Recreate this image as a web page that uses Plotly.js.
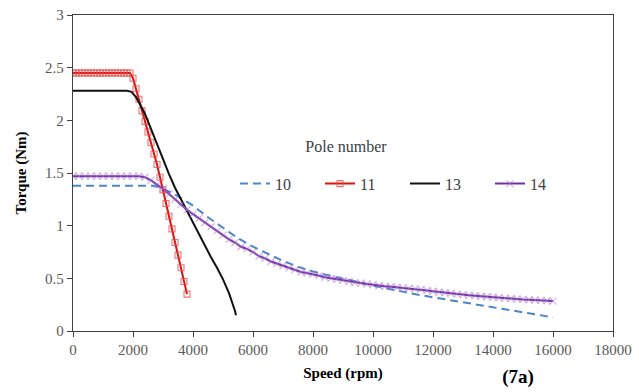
<!DOCTYPE html>
<html>
<head>
<meta charset="utf-8">
<script src="https://cdn.plot.ly/plotly-3.0.1.min.js"></script>
<style>html,body{margin:0;padding:0;background:#fff;}#chart{width:639px;height:392px;}</style>
</head>
<body>
<div id="chart"></div>
<div style="position:absolute;left:266px;top:137px;width:160px;text-align:center;font-family:'Liberation Serif';font-size:16px;line-height:20px;color:#404040;">Pole number</div>
<div style="position:absolute;left:478px;top:366px;width:80px;text-align:center;font-family:'Liberation Serif';font-size:19px;line-height:22px;font-weight:bold;color:#000;">(7a)</div>
<script>
// Pole number 10 (blue dashed)
const speed10 = [0,2700,2800,3000,3233,3500,3900,4000,4500,5000,5500,6000,6500,7000,7500,8000,8500,9000,9500,10000,10500,11000,11500,12000,12500,13000,13500,14000,14500,15000,15500,16000];
const torque10 = [1.38,1.38,1.37,1.35,1.32,1.28,1.21,1.19,1.08,0.98,0.88,0.80,0.73,0.665,0.61,0.565,0.53,0.50,0.465,0.43,0.40,0.37,0.345,0.32,0.297,0.274,0.25,0.226,0.203,0.18,0.157,0.13];

// Pole number 11 (red, square markers)
const speed11 = [0,100,200,300,400,500,600,700,800,900,1000,1100,1200,1300,1400,1500,1600,1700,1800,1900,2000,2100,2200,2300,2400,2500,2600,2700,2800,2900,3000,3100,3200,3300,3400,3500,3600,3700,3800];
const torque11 = [2.45,2.45,2.45,2.45,2.45,2.45,2.45,2.45,2.45,2.45,2.45,2.45,2.45,2.45,2.45,2.45,2.45,2.45,2.45,2.45,2.40,2.30,2.20,2.09,1.99,1.89,1.79,1.68,1.58,1.46,1.34,1.21,1.09,0.97,0.84,0.72,0.60,0.47,0.35];

// Pole number 13 (black)
const speed13 = [0,1800,1950,2100,2200,2400,2600,2800,3000,3200,3400,3600,3800,4000,4200,4400,4600,4800,5000,5200,5300,5400,5433];
const torque13 = [2.28,2.28,2.27,2.22,2.17,2.06,1.92,1.77,1.63,1.49,1.36,1.25,1.14,1.03,0.91,0.80,0.70,0.60,0.49,0.36,0.28,0.19,0.15];

// Pole number 14 (purple, x markers)
const speed14 = [0,200,400,600,800,1000,1200,1400,1600,1800,2000,2200,2400,2600,2800,3000,3200,3400,3600,3800,4000,4200,4400,4600,4800,5000,5200,5400,5600,5800,6000,6200,6400,6600,6800,7000,7200,7400,7600,7800,8000,8200,8400,8600,8800,9000,9200,9400,9600,9800,10000,10200,10400,10600,10800,11000,11200,11400,11600,11800,12000,12200,12400,12600,12800,13000,13200,13400,13600,13800,14000,14200,14400,14600,14800,15000,15200,15400,15600,15800,16000];
const torque14 = [1.47,1.47,1.47,1.47,1.47,1.47,1.47,1.47,1.47,1.47,1.47,1.47,1.46,1.43,1.39,1.35,1.30,1.25,1.20,1.15,1.11,1.07,1.03,0.99,0.95,0.91,0.87,0.84,0.80,0.78,0.75,0.71,0.69,0.66,0.64,0.62,0.60,0.58,0.56,0.55,0.54,0.525,0.51,0.50,0.49,0.48,0.47,0.46,0.455,0.447,0.44,0.43,0.425,0.42,0.415,0.41,0.405,0.40,0.395,0.385,0.377,0.37,0.363,0.357,0.35,0.345,0.34,0.335,0.33,0.325,0.32,0.316,0.312,0.308,0.304,0.30,0.297,0.294,0.29,0.287,0.284];

const xTicks = [0,2000,4000,6000,8000,10000,12000,14000,16000,18000];
const xTickText = ['0','2000','4000','6000','8000','10000','12000','14000','16000','18000'];
const yTicks = [0,0.5,1,1.5,2,2.5,3];
const yTickText = ['0','0.5','1','1.5','2','2.5','3'];

const traces = [
  {x: speed10, y: torque10, name: '10', mode: 'lines', line: {color: '#4A86C8', width: 2, dash: '8px,5px'}},
  {x: speed11, y: torque11, name: '11', mode: 'lines+markers', line: {color: '#DD1111', width: 2},
   marker: {symbol: 'square-open', size: 6, color: 'rgba(235,70,70,0.75)', line: {width: 1.1}}},
  {x: speed13, y: torque13, name: '13', mode: 'lines', line: {color: '#111111', width: 2}},
  {x: speed14, y: torque14, name: '14', mode: 'lines+markers', line: {color: '#7030A0', width: 2},
   marker: {symbol: 'x-thin', size: 7, color: 'rgba(170,120,215,0.55)', line: {width: 1.2, color: 'rgba(170,120,215,0.55)'}}}
];

const layout = {
  width: 639, height: 392,
  margin: {l: 73, r: 26, t: 15, b: 61},
  xaxis: {
    range: [0, 18000], tickvals: xTicks, ticktext: xTickText,
    showgrid: false, zeroline: false, showline: true, mirror: true,
    linecolor: '#404040', linewidth: 1.3, ticks: 'outside', ticklen: 5, tickcolor: '#404040',
    tickfont: {family: 'Liberation Serif', size: 15, color: '#595959'},
    title: {text: '<b>Speed (rpm)</b>', font: {family: 'Liberation Serif', size: 15, color: '#000'}, standoff: 10}
  },
  yaxis: {
    range: [0, 3], tickvals: yTicks, ticktext: yTickText,
    showgrid: false, zeroline: false, showline: true, mirror: true,
    linecolor: '#404040', linewidth: 1.3, ticks: 'outside', ticklen: 5, tickcolor: '#404040',
    tickfont: {family: 'Liberation Serif', size: 15, color: '#595959'},
    title: {text: '<b>Torque (Nm)</b>', font: {family: 'Liberation Serif', size: 15, color: '#000'}, standoff: 14}
  },
  legend: {
    orientation: 'h', x: 0.30, y: 0.52, xanchor: 'left', yanchor: 'top',
    bgcolor: 'rgba(0,0,0,0)', font: {family: 'Liberation Serif', size: 16, color: '#404040'},
    traceorder: 'normal', itemwidth: 30, entrywidth: 40, entrywidthmode: 'pixels'
  },
  showlegend: true
};

Plotly.newPlot('chart', traces, layout, {displayModeBar: false, staticPlot: true});
</script>
</body>
</html>
